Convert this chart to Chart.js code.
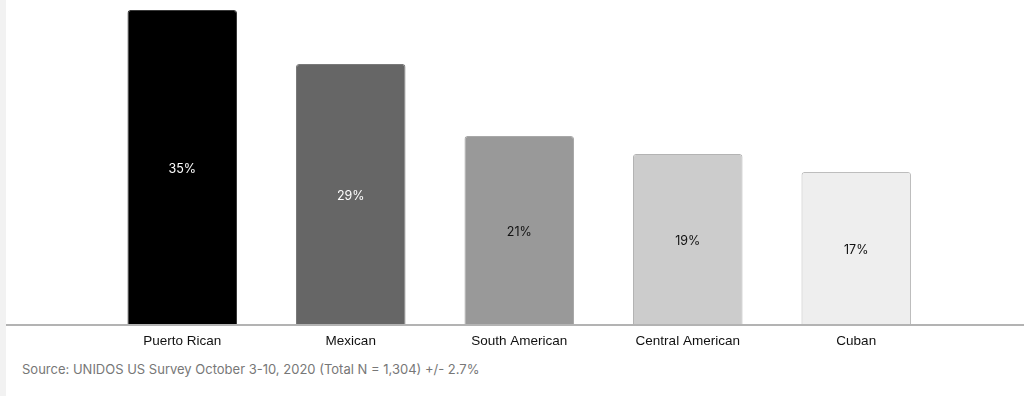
<!DOCTYPE html>
<html>
<head>
<meta charset="utf-8">
<script src="https://cdn.jsdelivr.net/npm/chart.js@4"></script>
<style>
  html, body { margin: 0; padding: 0; background: #fff; }
  body { width: 1024px; height: 396px; position: relative; overflow: hidden; }
  .strip { position: absolute; left: 0; top: 0; width: 6px; height: 396px; background: #f2f2f2; }
  .wrap { position: absolute; left: 6px; top: 0; width: 1018px; height: 355px; }
  .source {
    position: absolute; left: 22px; top: 361px;
    font: 13px Inter, "Noto Sans", sans-serif; color: #777;
  }
</style>
</head>
<body>
<div class="strip"></div>
<div class="wrap"><canvas id="chart"></canvas></div>
<div class="source">Source: UNIDOS US Survey October 3-10, 2020 (Total N = 1,304) +/- 2.7%</div>
<script>
// ─── Data ───
const CATEGORIES = ['Puerto Rican', 'Mexican', 'South American', 'Central American', 'Cuban'];
const VALUES = [35, 29, 21, 19, 17];

// ─── Styles ───
const BAR_COLORS = ['#000000', '#666666', '#999999', '#cccccc', '#eeeeee'];
const BORDER_COLORS = ['#3a3a3a', '#7a7a7a', '#a8a8a8', '#b3b3b3', '#bdbdbd'];
const LABEL_COLORS = ['#ffffff', '#ffffff', '#111111', '#111111', '#111111'];

// value labels in the middle of each bar
const valueLabels = {
  id: 'valueLabels',
  afterDatasetsDraw(chart) {
    const { ctx } = chart;
    const meta = chart.getDatasetMeta(0);
    ctx.save();
    ctx.font = '12.5px Inter, "Noto Sans", sans-serif';
    ctx.textAlign = 'center';
    ctx.textBaseline = 'middle';
    meta.data.forEach((bar, i) => {
      ctx.fillStyle = LABEL_COLORS[i];
      ctx.fillText(VALUES[i] + '%', bar.x, (bar.y + bar.base) / 2 + 2);
    });
    ctx.restore();
  }
};

// baseline across the full width
const baseline = {
  id: 'baseline',
  afterDatasetsDraw(chart) {
    const { ctx } = chart;
    const y = chart.scales.y.getPixelForValue(0);
    ctx.save();
    ctx.strokeStyle = '#b3b3b3';
    ctx.lineWidth = 2;
    ctx.beginPath();
    ctx.moveTo(0, y);
    ctx.lineTo(chart.width, y);
    ctx.stroke();
    ctx.restore();
  }
};

new Chart(document.getElementById('chart'), {
  type: 'bar',
  data: {
    labels: CATEGORIES,
    datasets: [{
      data: VALUES,
      backgroundColor: BAR_COLORS,
      borderColor: BORDER_COLORS,
      borderWidth: 1,
      borderRadius: 3,
      borderSkipped: 'bottom',
      barPercentage: 0.65,
      categoryPercentage: 1,
    }],
  },
  options: {
    responsive: true,
    maintainAspectRatio: false,
    animation: false,
    layout: { padding: { left: 92, right: 83.5, top: 10, bottom: 0 } },
    plugins: { legend: { display: false }, tooltip: { enabled: false } },
    scales: {
      x: {
        grid: { display: false, drawTicks: false },
        border: { display: false },
        ticks: {
          padding: 8,
          color: '#111',
          font: { family: '"Liberation Sans", Arial, sans-serif', size: 13.5 },
        },
        afterFit: s => { s.height = 30; },
      },
      y: { display: false, min: 0, max: 35 },
    },
  },
  plugins: [valueLabels, baseline],
});
</script>
</body>
</html>
